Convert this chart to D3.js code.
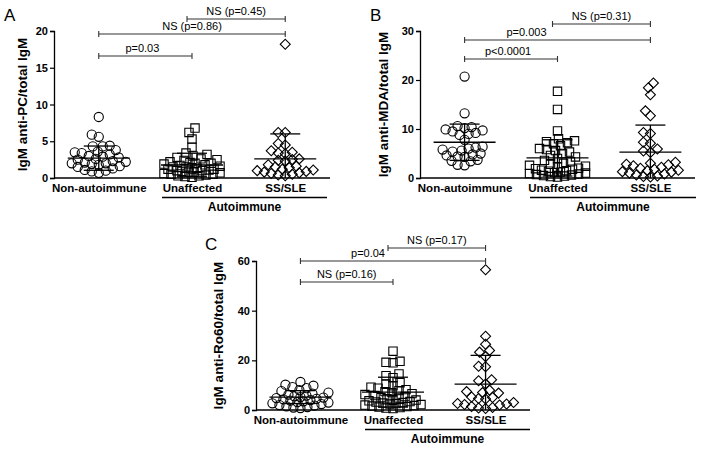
<!DOCTYPE html>
<html><head><meta charset="utf-8">
<script src="https://cdn.jsdelivr.net/npm/d3@7"></script>
<style>
body{margin:0;background:#fff}
svg{display:block}
text{font-family:"Liberation Sans",Arial,Helvetica,sans-serif;fill:#000}
</style>
</head><body>
<svg id="chart" width="704" height="449"></svg>
<script>
// ---------- data ----------
const categories = ["Non-autoimmune", "Unaffected", "SS/SLE"];
const groupLabel = "Autoimmune";

// Panel A: IgM anti-PC/total IgM
const pcNonAutoimmune = [8.3,5.9,5.6,4.4,4.3,4.3,3.8,3.6,3.5,3.4,3.2,3.0,2.9,2.8,2.6,2.5,2.3,2.2,2.1,2.0,2.0,1.9,1.8,1.6,1.5,1.3,1.1,1.0,0.9,0.7];
const pcUnaffected = [6.8,6.2,5.3,4.2,3.4,3.2,3.0,2.8,2.6,2.5,2.4,2.2,2.1,2.0,2.0,1.9,1.8,1.7,1.6,1.5,1.5,1.4,1.3,1.2,1.2,1.1,1.0,1.0,0.9,0.8,0.8,0.7,0.6,0.5,0.5,0.4,0.3,0.3,0.2,0.1];
const pcSSSLE = [18.2,6.2,6.2,4.7,4.5,3.7,3.5,3.4,3.3,2.6,2.5,2.4,2.3,1.8,1.6,1.5,1.4,1.2,1.1,1.0,0.9,0.8,0.7,0.6,0.5,0.4,0.3];
const pcMean = [2.7, 1.77, 2.6];
const pcSD = [1.65, 1.6, 3.4];
const pcTicks = [0, 5, 10, 15, 20];

// Panel B: IgM anti-MDA/total IgM
const mdaNonAutoimmune = [20.7,13.2,10.6,10.4,10.2,9.9,9.7,9.5,9.2,9.0,8.8,7.8,6.4,6.2,6.0,5.8,5.6,5.4,5.0,4.8,4.6,4.4,4.3,3.7,3.5,3.4,2.7,2.6];
const mdaUnaffected = [17.7,14.0,9.6,8.0,7.6,7.4,7.2,7.0,6.6,6.0,5.8,5.6,5.3,5.0,4.6,4.3,4.0,3.6,3.3,3.0,2.8,2.6,2.4,2.2,2.0,1.9,1.8,1.6,1.5,1.4,1.2,1.1,1.0,0.9,0.8,0.7,0.6,0.5,0.4,0.3,0.2];
const mdaSSSLE = [19.4,18.4,17.0,13.7,12.7,9.3,9.1,7.3,7.1,5.9,5.5,5.2,3.2,3.0,2.8,2.7,2.5,2.2,2.0,1.8,1.6,1.5,1.3,1.2,1.0,0.8,0.6,0.4,0.3,0.2];
const mdaMean = [7.3, 4.1, 5.3];
const mdaSD = [3.7, 3.7, 5.5];
const mdaTicks = [0, 10, 20, 30];

// Panel C: IgM anti-Ro60/total IgM
const roNonAutoimmune = [11.3,10.2,9.8,9.2,8.8,8.0,7.6,7.0,6.6,6.2,5.8,5.5,5.2,5.0,4.8,4.5,4.3,4.0,3.8,3.5,3.2,3.0,2.7,2.4,2.0,1.8,1.5,1.2,1.0,0.8];
const roUnaffected = [23.7,19.6,19.2,19.0,14.5,13.8,13.0,11.0,10.4,9.8,9.2,8.8,8.2,7.8,7.4,7.0,6.6,6.2,5.8,5.4,5.0,4.8,4.5,4.2,4.0,3.7,3.4,3.2,3.0,2.8,2.6,2.4,2.2,2.0,1.8,1.6,1.4,1.2,1.0,0.8,0.6];
const roSSSLE = [56.5,29.7,26.5,24.0,23.3,21.5,17.6,17.4,12.2,11.8,10.5,8.0,7.4,7.0,6.8,5.2,5.0,4.6,4.4,3.0,2.6,2.4,2.2,2.0,1.4,1.0,0.8,0.6];
const roMean = [5.2, 7.2, 10.4];
const roSD = [2.6, 6.0, 11.6];
const roTicks = [0, 20, 40, 60];

// comparisons: [from index, to index, label]
const pcComparisons = [[0,1,"p=0.03"],[0,2,"NS (p=0.86)"],[1,2,"NS (p=0.45)"]];
const mdaComparisons = [[0,1,"p<0.0001"],[0,2,"p=0.003"],[1,2,"NS (p=0.31)"]];
const roComparisons = [[0,1,"NS (p=0.16)"],[0,2,"p=0.04"],[1,2,"NS (p=0.17)"]];

// ---------- layout ----------
const panels = [
  {letter:"A", title:"IgM anti-PC/total IgM", groups:[pcNonAutoimmune,pcUnaffected,pcSSSLE], mean:pcMean, sd:pcSD, ticks:pcTicks, comps:pcComparisons,
   x0:54, x1:330, yTop:31, yBot:178, letterX:4, letterY:21, titleX:22, bracketY:[56,34,19], labelShift:[-3,0,0], autoX0:162, autoX1:327},
  {letter:"B", title:"IgM anti-MDA/total IgM", groups:[mdaNonAutoimmune,mdaUnaffected,mdaSSSLE], mean:mdaMean, sd:mdaSD, ticks:mdaTicks, comps:mdaComparisons,
   x0:420, x1:695, yTop:31, yBot:178, letterX:370, letterY:21, titleX:383, bracketY:[59,40,24], labelShift:[-3,-31,0], autoX0:530, autoX1:696},
  {letter:"C", title:"IgM anti-Ro60/total IgM", groups:[roNonAutoimmune,roUnaffected,roSSSLE], mean:roMean, sd:roSD, ticks:roTicks, comps:roComparisons,
   x0:256, x1:530, yTop:261, yBot:410, letterX:205, letterY:250, titleX:218, bracketY:[282,261,248], labelShift:[0,-25,0], autoX0:365, autoX1:530}
];

const svg = d3.select("#chart");

// deterministic swarm layout computed from the values
function swarm(values, y, minDist, cap){
  const pts = values.map(v => ({v, y: y(v)})).sort((a,b) => b.y - a.y);
  const placed = [];
  const offs = [0];
  for (let k = 1; k <= cap; k++){ offs.push(-k, k); }
  for (const p of pts){
    let bestOff = 0, bestD = -1;
    for (const o of offs){
      let dmin = Infinity;
      for (const q of placed){
        const d = Math.hypot(q.x - o, q.y - p.y);
        if (d < dmin) dmin = d;
      }
      if (dmin >= minDist){ bestOff = o; bestD = Infinity; break; }
      if (dmin > bestD + 0.5){ bestD = dmin; bestOff = o; }
    }
    p.x = bestOff; placed.push(p);
  }
  return pts;
}

const markers = [
  {type: d3.symbolCircle, size: 66, rot: 0},
  {type: d3.symbolSquare, size: 70, rot: 0},
  {type: d3.symbolSquare, size: 50, rot: 45}
];

panels.forEach(P => {
  const g = svg.append("g");
  const y = d3.scaleLinear().domain([0, d3.max(P.ticks)]).range([P.yBot, P.yTop]);
  const x = d3.scalePoint().domain(categories).range([P.x0, P.x1]).padding(0.48);

  // y axis
  const yAx = g.append("g").attr("transform", `translate(${P.x0},0)`)
    .call(d3.axisLeft(y).tickValues(P.ticks).tickSize(4).tickPadding(2).tickFormat(d3.format("d")));
  yAx.select(".domain").attr("stroke","#000").attr("stroke-width",1.3);
  yAx.selectAll(".tick line").attr("stroke","#000").attr("stroke-width",1.2);
  yAx.selectAll("text").style("font-size","11px").style("font-weight","bold").style("font-family","'Liberation Sans',Arial,sans-serif");

  // x baseline
  const xAx = g.append("g").attr("transform", `translate(0,${P.yBot})`)
    .call(d3.axisBottom(x).tickSize(0).tickPadding(6));
  xAx.select(".domain").attr("d", `M${P.x0},0H${P.x1}`).attr("stroke","#000").attr("stroke-width",1.3);
  xAx.selectAll("text").style("font-size","11.5px").style("font-weight","bold").style("font-family","'Liberation Sans',Arial,sans-serif");

  // group line + label
  g.append("line").attr("x1",P.autoX0).attr("x2",P.autoX1).attr("y1",P.yBot+19.5).attr("y2",P.yBot+19.5)
    .attr("stroke","#000").attr("stroke-width",1.3);
  g.append("text").attr("x",(P.autoX0+P.autoX1)/2).attr("y",P.yBot+33).attr("text-anchor","middle")
    .style("font-size","12px").style("font-weight","bold").text(groupLabel);

  // y title
  g.append("text").attr("transform",`translate(${P.titleX},${(P.yTop+P.yBot)/2}) rotate(-90)`)
    .attr("text-anchor","middle").attr("dy","0.35em")
    .style("font-size","13.5px").style("font-weight","bold").text(P.title);

  // panel letter
  g.append("text").attr("x",P.letterX).attr("y",P.letterY).style("font-size","17px").text(P.letter);

  // points
  P.groups.forEach((vals, i) => {
    const cx = x(categories[i]);
    const pts = swarm(vals, y, 7, 28);
    const mk = markers[i];
    g.append("g").selectAll("path").data(pts).join("path")
      .attr("d", d3.symbol().type(mk.type).size(mk.size))
      .attr("transform", d => `translate(${cx + d.x},${d.y}) rotate(${mk.rot})`)
      .attr("fill","none").attr("stroke","#000").attr("stroke-width",1.1);

    // mean & SD
    const m = P.mean[i], s = P.sd[i];
    const hi = m + s, lo = Math.max(0, m - s);
    const eb = g.append("g").attr("stroke","#000").attr("stroke-width",1.3);
    eb.append("line").attr("x1",cx).attr("x2",cx).attr("y1",y(lo)).attr("y2",y(hi));
    eb.append("line").attr("x1",cx-31).attr("x2",cx+31).attr("y1",y(m)).attr("y2",y(m));
    eb.append("line").attr("x1",cx-15).attr("x2",cx+15).attr("y1",y(hi)).attr("y2",y(hi));
    if (m - s > 0) eb.append("line").attr("x1",cx-15).attr("x2",cx+15).attr("y1",y(lo)).attr("y2",y(lo));
  });

  // comparison brackets
  P.comps.forEach((c, j) => {
    const xa = x(categories[c[0]]) - (j === 2 ? 5 : 0);
    const xb = x(categories[c[1]]);
    const by = P.bracketY[j];
    const bg = g.append("g").attr("stroke","#333").attr("stroke-width",1.1);
    bg.append("line").attr("x1",xa).attr("x2",xb).attr("y1",by).attr("y2",by);
    bg.append("line").attr("x1",xa).attr("x2",xa).attr("y1",by-3).attr("y2",by+3);
    bg.append("line").attr("x1",xb).attr("x2",xb).attr("y1",by-3).attr("y2",by+3);
    g.append("text").attr("x",(xa+xb)/2 + P.labelShift[j]).attr("y",by-4).attr("text-anchor","middle")
      .style("font-size","11px").text(c[2]);
  });
});
</script>
</body></html>
